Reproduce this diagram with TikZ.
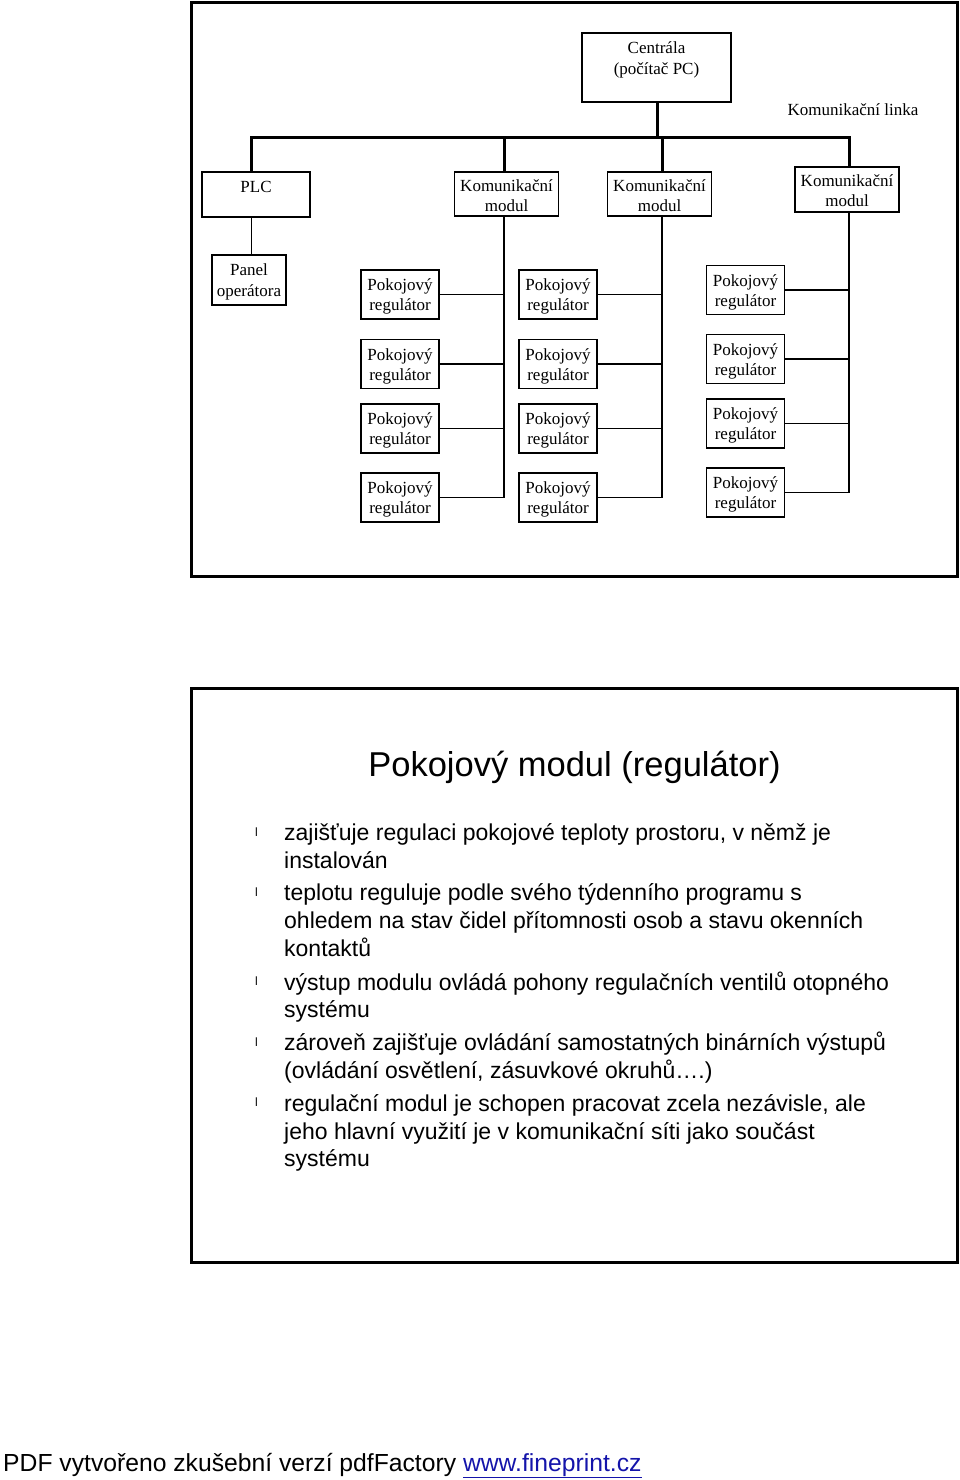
\documentclass[tikz,border=0pt]{standalone}
\usepackage{fontspec}
\setmainfont{Liberation Serif}
\newfontfamily\arialfont{Liberation Sans}
\definecolor{linkblue}{RGB}{20,20,170}
\newcommand{\toprule}[1]{\rule{0pt}{#1}}
\newcommand{\botrule}[1]{\rule[-#1]{0pt}{#1}}
\begin{document}
\begin{tikzpicture}[x=1pt,y=-1pt,
  box/.style={draw, line width=1.4pt, inner sep=0pt, align=center,
    font=\fontsize{17}{20}\selectfont},
  pok/.style={box, minimum width=78pt, minimum height=49pt},
  kom/.style={box, minimum width=104pt, minimum height=44pt},
  thinln/.style={line width=1.1pt},
  busln/.style={line width=3pt},
  frameln/.style={line width=2.6pt},
  label17/.style={inner sep=0pt, font=\fontsize{17}{20}\selectfont},
  txt/.style={anchor=base west, inner sep=0pt, font=\arialfont\fontsize{23}{27.6}\selectfont},
  bul/.style={anchor=base west, inner sep=0pt, font=\arialfont\fontsize{12}{14}\selectfont},
]
\useasboundingbox (0,0) rectangle (960,1480);
\fill[white] (0,0) rectangle (960,1480);

\def\PR{\toprule{16pt}Pokojový\\regulátor\botrule{4pt}}
\def\KM{\toprule{18pt}Komunikační\\modul\botrule{4pt}}

% ---------- upper frame ----------
\draw[frameln] (191.5,2.5) rectangle (957.5,576.5);

\node[box, minimum width=149pt, minimum height=69pt, font=\fontsize{17}{21}\selectfont] (cen) at (656.5,67.5)
  {\toprule{12pt}Centrála\\(počítač PC)\botrule{19pt}};
\node[label17] (linka) at (853,110) {Komunikační linka};

\node[box, minimum width=108pt, minimum height=45pt, text height=6pt, text depth=10pt] (plc) at (256,194.5) {PLC};
\node[kom] (km1) at (506.5,194) {\KM};
\node[kom] (km2) at (659.5,194) {\KM};
\node[kom, minimum height=45pt] (km3) at (847,189.5) {\KM};

% bus
\coordinate (busL) at (251.5,137);
\coordinate (busR) at (849,137);
\coordinate (busC) at (657,137);
\coordinate (v1) at (504,137);
\coordinate (v2) at (662,137);
\draw[busln] (cen.south -| busC) -- (busC);
\draw[busln, line cap=rect] (busL) -- (busR);
\draw[busln] (busL) -- (busL |- plc.north);
\draw[busln] (v1) -- (v1 |- km1.north);
\draw[busln] (v2) -- (v2 |- km2.north);
\draw[busln] (busR) -- (busR |- km3.north);

% panel
\node[box, minimum width=74pt, minimum height=50pt, font=\fontsize{17}{21}\selectfont] (pan) at (249,280)
  {\toprule{15pt}Panel\\operátora\botrule{4pt}};
\draw[thinln] (plc.south -| busL) -- (pan.north -| busL);

% column 1
\node[pok] (a1) at (400,294.5) {\PR};
\node[pok] (a2) at (400,364) {\PR};
\node[pok] (a3) at (400,428.5) {\PR};
\node[pok] (a4) at (400,497.5) {\PR};
% column 2
\node[pok] (b1) at (558,294.5) {\PR};
\node[pok] (b2) at (558,364) {\PR};
\node[pok] (b3) at (558,428.5) {\PR};
\node[pok] (b4) at (558,497.5) {\PR};
% column 3
\node[pok] (c1) at (745.5,290) {\PR};
\node[pok] (c2) at (745.5,359) {\PR};
\node[pok] (c3) at (745.5,423.5) {\PR};
\node[pok] (c4) at (745.5,492.5) {\PR};

\draw[thinln] (km1.south -| v1) -- (a4.east -| v1) -- (a4.east);
\draw[thinln] (a1.east) -- (a1.east -| v1);
\draw[thinln] (a2.east) -- (a2.east -| v1);
\draw[thinln] (a3.east) -- (a3.east -| v1);

\draw[thinln] (km2.south -| v2) -- (b4.east -| v2) -- (b4.east);
\draw[thinln] (b1.east) -- (b1.east -| v2);
\draw[thinln] (b2.east) -- (b2.east -| v2);
\draw[thinln] (b3.east) -- (b3.east -| v2);

\draw[thinln] (km3.south -| busR) -- (c4.east -| busR) -- (c4.east);
\draw[thinln] (c1.east) -- (c1.east -| busR);
\draw[thinln] (c2.east) -- (c2.east -| busR);
\draw[thinln] (c3.east) -- (c3.east -| busR);

% ---------- lower frame ----------
\draw[frameln] (191.5,688.5) rectangle (957.5,1262.5);

\node[anchor=base, inner sep=0pt, font=\arialfont\fontsize{34.5}{40}\selectfont] (title) at (574.5,776.7)
  {Pokojový modul (regulátor)};

\node[bul] (u1) at (255,836) {l};
\node[txt] (t1a) at (284,840.5) {zajišťuje regulaci pokojové teploty prostoru, v němž je};
\node[txt] (t1b) at (284,868) {instalován};

\node[bul] (u2) at (255,896) {l};
\node[txt] (t2a) at (284,900.7) {teplotu reguluje podle svého týdenního programu s};
\node[txt] (t2b) at (284,928.3) {ohledem na stav čidel přítomnosti osob a stavu okenních};
\node[txt] (t2c) at (284,956) {kontaktů};

\node[bul] (u3) at (255,985) {l};
\node[txt] (t3a) at (284,990) {výstup modulu ovládá pohony regulačních ventilů otopného};
\node[txt] (t3b) at (284,1017.3) {systému};

\node[bul] (u4) at (255,1046) {l};
\node[txt] (t4a) at (284,1050.7) {zároveň zajišťuje ovládání samostatných binárních výstupů};
\node[txt] (t4b) at (284,1078.3) {(ovládání osvětlení, zásuvkové okruhů….)};

\node[bul] (u5) at (255,1106) {l};
\node[txt] (t5a) at (284,1111) {regulační modul je schopen pracovat zcela nezávisle, ale};
\node[txt] (t5b) at (284,1139) {jeho hlavní využití je v komunikační síti jako součást};
\node[txt] (t5c) at (284,1166.5) {systému};

% ---------- footer ----------
\node[anchor=base west, inner sep=0pt, font=\arialfont\fontsize{24.7}{30}\selectfont] (foot) at (3,1471)
  {PDF vytvořeno zkušební verzí pdfFactory \textcolor{linkblue}{\underline{www.fineprint.cz}}};
\end{tikzpicture}
\end{document}
